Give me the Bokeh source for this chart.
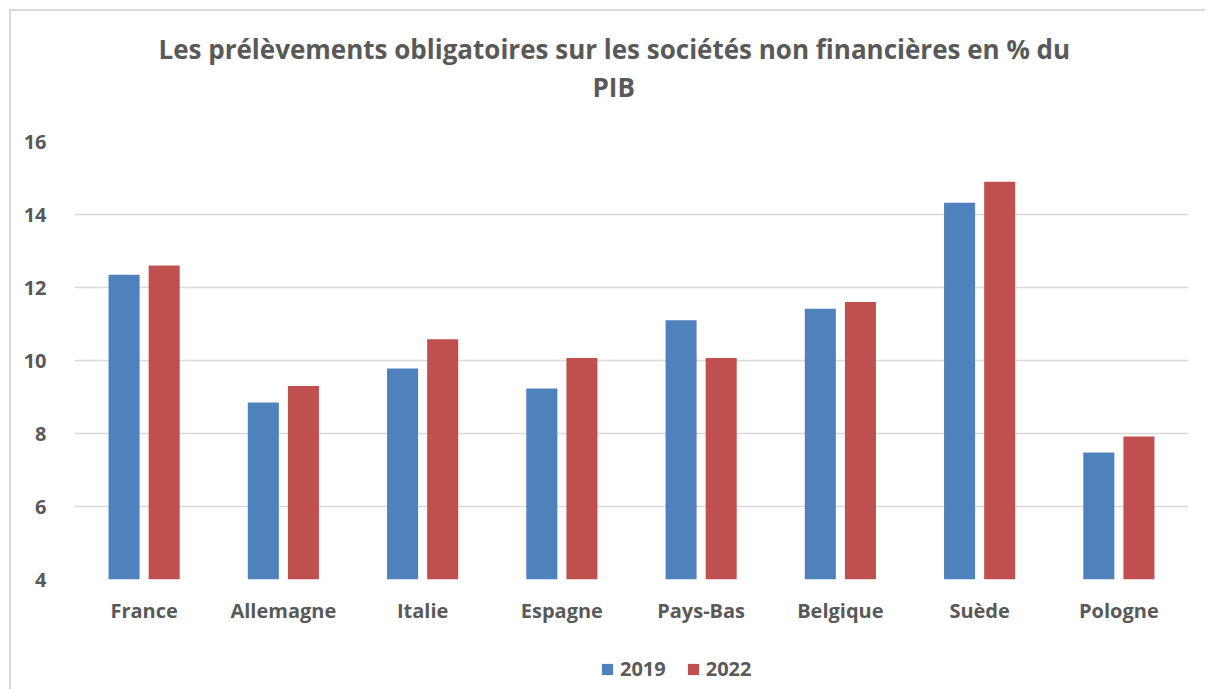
from bokeh.plotting import figure
from bokeh.layouts import column
from bokeh.models import FactorRange, Range1d, ColumnDataSource, Legend, LegendItem, Title, SingleIntervalTicker
from bokeh.transform import dodge
from bokeh.embed import file_html
from bokeh.resources import INLINE

countries = ["France", "Allemagne", "Italie", "Espagne", "Pays-Bas", "Belgique", "Suède", "Pologne"]
v2019 = [12.35, 8.85, 9.78, 9.23, 11.1, 11.42, 14.32, 7.48]
v2022 = [12.6, 9.3, 10.58, 10.07, 10.07, 11.6, 14.9, 7.92]
series = ["2019", "2022"]
colors = ["#4F81BD", "#C0504D"]
title_line1 = "Les prélèvements obligatoires sur les sociétés non financières en % du"
title_line2 = "PIB"

FONT = "Open Sans"
GRAY = "#595959"

src = ColumnDataSource(dict(c=countries, a=v2019, b=v2022))
xr = FactorRange(*countries, range_padding=0)
yr = Range1d(4, 16)

p = figure(frame_width=1114, frame_height=438, x_range=xr, y_range=yr,
           output_backend="svg", toolbar_location=None,
           min_border_left=63, min_border_right=17, min_border_top=0, min_border_bottom=50)

spacer_bottom = Title(text=" ", text_font_size="1px", standoff=33.5)
t2 = Title(text=title_line2, align="left", text_font=FONT, text_font_size="26px",
           text_font_style="bold", text_color=GRAY, offset=518, standoff=0)
t1 = Title(text=title_line1, align="left", text_font=FONT, text_font_size="26px",
           text_font_style="bold", text_color=GRAY, offset=84, standoff=0)
spacer_top = Title(text=" ", text_font_size="1px", standoff=13.5)
p.add_layout(spacer_bottom, "above")
p.add_layout(t2, "above")
p.add_layout(t1, "above")
p.add_layout(spacer_top, "above")

p.vbar(x=dodge("c", -0.144, range=xr), top="a", bottom=4, width=0.223,
       source=src, color=colors[0], line_color=None)
p.vbar(x=dodge("c", 0.144, range=xr), top="b", bottom=4, width=0.223,
       source=src, color=colors[1], line_color=None)

p.xgrid.grid_line_color = None
p.ygrid.grid_line_color = "#d9d9d9"
p.ygrid.grid_line_width = 1.5
p.yaxis.ticker = SingleIntervalTicker(interval=2)
p.outline_line_color = None
for ax in (p.xaxis[0], p.yaxis[0]):
    ax.axis_line_color = None
    ax.major_tick_line_color = None
    ax.minor_tick_line_color = None
    ax.major_label_text_font = FONT
    ax.major_label_text_font_style = "bold"
    ax.major_label_text_color = GRAY
    ax.major_label_text_font_size = "20px"
p.yaxis.major_label_standoff = 22
p.xaxis.major_label_standoff = 11

# legend strip below the chart
leg = figure(width=1194, height=60, x_range=xr, y_range=yr, output_backend="svg",
             toolbar_location=None, x_axis_location=None, y_axis_location=None,
             min_border=0, min_border_left=0, min_border_right=0,
             min_border_top=0, min_border_bottom=0)
leg.xgrid.grid_line_color = None
leg.ygrid.grid_line_color = None
leg.outline_line_color = None
lr1 = leg.vbar(x=dodge("c", -0.144, range=xr), top="a", bottom=4, width=0.223,
               source=src, color=colors[0], line_color=None, visible=False)
lr2 = leg.vbar(x=dodge("c", 0.144, range=xr), top="b", bottom=4, width=0.223,
               source=src, color=colors[1], line_color=None, visible=False)
legend = Legend(items=[LegendItem(label=series[0], renderers=[lr1]),
                       LegendItem(label=series[1], renderers=[lr2])],
                orientation="horizontal", location=(526, 7),
                label_text_font=FONT, label_text_font_style="bold",
                label_text_color=GRAY, label_text_font_size="20px",
                glyph_width=14, glyph_height=14, spacing=20, label_standoff=6,
                border_line_color=None, background_fill_alpha=0, margin=0, padding=5)
leg.add_layout(legend, "center")

layout = column(p, leg, spacing=0)
layout.styles = {"margin-left": "9px", "margin-top": "9px",
                 "border-left": "2px solid #d9d9d9", "border-top": "2px solid #d9d9d9"}

open("out.html", "w").write(file_html(layout, INLINE))
